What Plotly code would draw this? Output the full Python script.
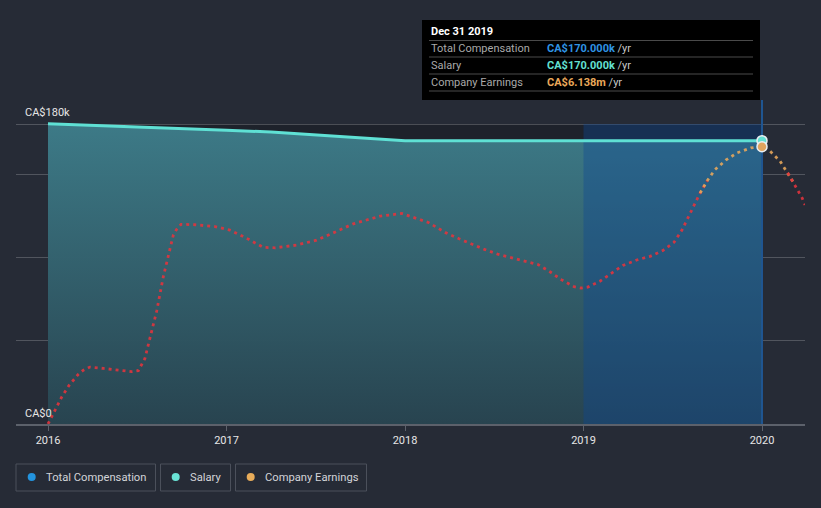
import plotly.graph_objects as go

# ---------------- data ----------------
# Company earnings (CA$ millions), x as decimal year
earn_years = [2016.000, 2016.077, 2016.119, 2016.170, 2016.198, 2016.235, 2016.310, 2016.394,
              2016.469, 2016.506, 2016.543, 2016.571, 2016.609, 2016.646, 2016.674, 2016.702,
              2016.721, 2016.745, 2016.824, 2016.936, 2017.020, 2017.113, 2017.206, 2017.272,
              2017.393, 2017.505, 2017.598, 2017.710, 2017.860, 2017.981, 2018.131, 2018.230,
              2018.303, 2018.374, 2018.448, 2018.519, 2018.598, 2018.672, 2018.745, 2018.812,
              2018.878, 2018.947, 2018.986, 2019.024, 2019.092, 2019.158, 2019.221, 2019.298,
              2019.373, 2019.445, 2019.507, 2019.550, 2019.585, 2019.619, 2019.653, 2019.694,
              2019.737, 2019.797, 2019.860, 2019.937, 2020.000, 2020.045, 2020.101, 2020.144,
              2020.185, 2020.224, 2020.241]
earnings_m = [0.00, 0.60, 0.86, 1.10, 1.19, 1.26, 1.23, 1.20,
              1.16, 1.18, 1.45, 1.90, 2.50, 3.26, 3.72, 4.18,
              4.31, 4.42, 4.41, 4.37, 4.29, 4.11, 3.91, 3.90,
              3.96, 4.07, 4.23, 4.43, 4.60, 4.66, 4.46, 4.23,
              4.10, 3.98, 3.86, 3.76, 3.68, 3.61, 3.53, 3.37,
              3.19, 3.04, 3.01, 3.03, 3.16, 3.34, 3.51, 3.63,
              3.71, 3.84, 4.02, 4.28, 4.56, 4.83, 5.11, 5.39,
              5.63, 5.84, 6.00, 6.11, 6.138, 6.04, 5.82, 5.56,
              5.29, 5.01, 4.85]

# Salary / total compensation (CA$ thousands)
comp_years = [2016.0, 2016.5, 2017.0, 2017.25, 2017.5, 2017.75, 2018.0, 2018.5, 2019.0, 2019.5, 2020.0]
salary_k = [180.2, 178.4, 176.3, 175.2, 173.4, 171.4, 170.0, 170.0, 170.0, 170.0, 170.0]
total_comp_k = [180.2, 178.4, 176.3, 175.2, 173.4, 171.4, 170.0, 170.0, 170.0, 170.0, 170.0]

x_tick_vals = [2016, 2017, 2018, 2019, 2020]
x_tick_text = ["2016", "2017", "2018", "2019", "2020"]
y_grid_vals = [0, 50, 100, 150, 180]
y_label_vals = [0, 180]
y_label_text = ["CA$0", "CA$180k"]

highlight_start, highlight_end = 2019.0, 2020.0
tooltip_title = "Dec 31 2019"
tooltip_rows = [("Total Compensation", "CA$170.000k", "#2f93e3"),
                ("Salary", "CA$170.000k", "#63e0d2"),
                ("Company Earnings", "CA$6.138m", "#eaa85a")]
legend_items = [("Total Compensation", "#2394df"), ("Salary", "#6ae3d6"), ("Company Earnings", "#e8ac5a")]

# ---------------- layout geometry ----------------
W, H = 821, 508
ML, MR, MT, MB = 16, 16, 20, 84
PW, PH = W - ML - MR, H - MT - MB
X_RANGE = [2015.8207, 2020.2409]
Y_TOP = 180 * PH / 300.0
EARN_TOP = 6.64 * PH / 300.0


def pxx(x):
    return (x - ML) / PW


def pyy(y):
    return (H - MB - y) / PH


BG = "#262b36"
fig = go.Figure()

# compensation areas
fill_grad = dict(type="vertical", start=0, stop=180,
                 colorscale=[[0, "rgba(40,68,80,0.9)"], [1, "rgba(61,123,136,0.9)"]])
fig.add_trace(go.Scatter(x=comp_years, y=total_comp_k, mode="lines", fill="tozeroy",
                         line=dict(color="#2394df", width=0), fillgradient=fill_grad,
                         hoverinfo="skip", showlegend=False))
fig.add_trace(go.Scatter(x=comp_years, y=salary_k, mode="lines", fill="tozeroy",
                         line=dict(color="#5fe0d4", width=0), fillgradient=fill_grad,
                         hoverinfo="skip", showlegend=False))

# highlighted period overlay
fig.add_trace(go.Scatter(x=[highlight_start, highlight_end, highlight_end, highlight_start, highlight_start],
                         y=[0, 0, max(y_grid_vals), max(y_grid_vals), 0], mode="lines", fill="toself",
                         fillcolor="rgba(14,70,150,0.38)", line=dict(width=0),
                         hoverinfo="skip", showlegend=False))
# salary line on top
fig.add_trace(go.Scatter(x=comp_years, y=salary_k, mode="lines",
                         line=dict(color="#5fe0d4", width=3), hoverinfo="skip", showlegend=False))

# crosshair (from tooltip bottom down to axis)
cross_top = (H - MB - 100) * 180 / 300.0
fig.add_trace(go.Scatter(x=[highlight_end, highlight_end], y=[0, cross_top], mode="lines",
                         line=dict(color="#1f5590", width=2), hoverinfo="skip", showlegend=False))

# earnings dotted line, coloured by level
thr = 5.3
runs = []
cur = None
for xv, yv in zip(earn_years, earnings_m):
    col = "#e9a95c" if yv >= thr else "#e5343d"
    if cur is None:
        cur = [col, [xv], [yv]]
    elif cur[0] != col:
        cur[1].append(xv)
        cur[2].append(yv)
        runs.append(cur)
        cur = [col, [cur[1][-2], xv], [cur[2][-2], yv]]
    else:
        cur[1].append(xv)
        cur[2].append(yv)
runs.append(cur)
for col, xs, ys in runs:
    fig.add_trace(go.Scatter(x=xs, y=ys, yaxis="y2", mode="lines", opacity=0.88,
                             line=dict(color=col, width=2.8, dash="3px,4px"),
                             hoverinfo="skip", showlegend=False))

# hover markers
fig.add_trace(go.Scatter(x=[highlight_end], y=[salary_k[-1]], mode="markers",
                         marker=dict(size=10, color="#63e0d2", line=dict(color="#e8eef2", width=1.5)),
                         hoverinfo="skip", showlegend=False))
fig.add_trace(go.Scatter(x=[highlight_end], y=[earnings_m[earn_years.index(2020.0)]], yaxis="y2",
                         mode="markers",
                         marker=dict(size=10, color="#e0a45e", line=dict(color="#e8eef2", width=1.5)),
                         hoverinfo="skip", showlegend=False))

shapes = []
annotations = []
# dark band behind the areas
shapes.append(dict(type="rect", xref="x", yref="y", x0=comp_years[0], x1=comp_years[-1],
                   y0=0, y1=max(y_grid_vals), fillcolor="#1e222b", line=dict(width=0), layer="below"))

# y axis labels (above their grid lines, inside the plot)
for v, t, ys in zip(y_label_vals, y_label_text, [2, 3]):
    annotations.append(dict(xref="paper", yref="y", x=pxx(23), y=v, xanchor="left", yanchor="bottom",
                            yshift=ys, text=t, showarrow=False,
                            font=dict(family="Roboto", size=11, color="#e6e6e6")))

# tooltip
shapes.append(dict(type="rect", xref="paper", yref="paper", x0=pxx(422), x1=pxx(760),
                   y0=pyy(100), y1=pyy(20), fillcolor="#000000", line=dict(width=0), layer="above"))
for ly in [40.5, 57, 74, 91]:
    shapes.append(dict(type="line", xref="paper", yref="paper", x0=pxx(429), x1=pxx(753),
                       y0=pyy(ly), y1=pyy(ly), line=dict(color="#4a4a4a", width=1), layer="above"))
annotations.append(dict(xref="paper", yref="paper", x=pxx(429), y=pyy(31), xanchor="left", yanchor="middle",
                        text="<b>" + tooltip_title + "</b>", showarrow=False,
                        font=dict(family="Roboto", size=11, color="#ffffff")))
for i, (lab, val, col) in enumerate(tooltip_rows):
    yc = 48.5 + i * 17
    annotations.append(dict(xref="paper", yref="paper", x=pxx(429), y=pyy(yc), xanchor="left",
                            yanchor="middle", text=lab, showarrow=False,
                            font=dict(family="Roboto", size=11, color="#a9a9a9")))
    annotations.append(dict(xref="paper", yref="paper", x=pxx(545), y=pyy(yc), xanchor="left",
                            yanchor="middle",
                            text="<b><span style='color:%s'>%s</span></b> <span style='color:#c8c8c8'>/yr</span>" % (col, val),
                            showarrow=False, font=dict(family="Roboto", size=11, color="#c8c8c8")))

# legend boxes
boxes = [(16, 155.5, 31.7, 44), (160.5, 230.5, 175.7, 188), (235.5, 366.5, 250.7, 263)]
for (x0, x1, dx, tx), (lab, col) in zip(boxes, legend_items):
    shapes.append(dict(type="rect", xref="paper", yref="paper", x0=pxx(x0), x1=pxx(x1),
                       y0=pyy(491), y1=pyy(464), line=dict(color="#4b505b", width=1),
                       fillcolor="rgba(0,0,0,0)"))
    shapes.append(dict(type="circle", xref="paper", yref="paper", x0=pxx(dx - 4), x1=pxx(dx + 4),
                       y0=pyy(481), y1=pyy(473), fillcolor=col, line=dict(width=0)))
    annotations.append(dict(xref="paper", yref="paper", x=pxx(tx), y=pyy(477.5), xanchor="left",
                            yanchor="middle", text=lab, showarrow=False,
                            font=dict(family="Roboto", size=11.2, color="#d2d4d8")))

fig.update_layout(
    width=W, height=H,
    margin=dict(l=ML, r=MR, t=MT, b=MB),
    paper_bgcolor=BG, plot_bgcolor=BG,
    showlegend=False,
    font=dict(family="Roboto", color="#e6e6e6", size=11),
    xaxis=dict(range=X_RANGE, tickvals=x_tick_vals, ticktext=x_tick_text, showgrid=False,
               showline=True, linecolor="#5c616b", linewidth=2, ticks="outside", ticklen=5,
               tickcolor="#5c616b", tickfont=dict(size=11, color="#e6e6e6"), zeroline=False),
    yaxis=dict(range=[0, Y_TOP], tickvals=y_grid_vals, showticklabels=False, showgrid=True,
               gridcolor="rgba(255,255,255,0.2)", gridwidth=1, zeroline=False),
    yaxis2=dict(range=[0, EARN_TOP], overlaying="y", visible=False),
    shapes=shapes, annotations=annotations,
)

fig.write_html("out.html")
